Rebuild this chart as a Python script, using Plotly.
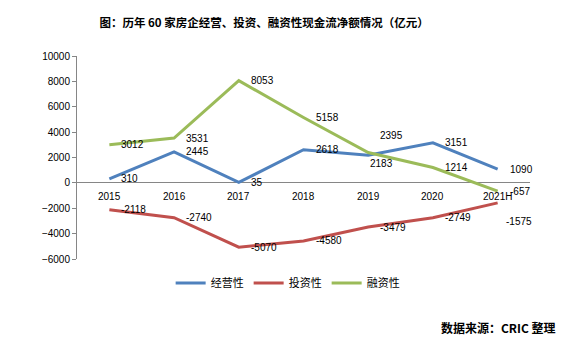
import plotly.graph_objects as go

categories = ["2015", "2016", "2017", "2018", "2019", "2020", "2021H"]
operating = [310, 2445, 35, 2618, 2183, 3151, 1090]
investing = [-2118, -2740, -5070, -4580, -3479, -2749, -1575]
financing = [3012, 3531, 8053, 5158, 2395, 1214, -657]
series_names = ["经营性", "投资性", "融资性"]
colors = ["#4F81BD", "#C0504D", "#9BBB59"]

# label pixel offsets (xshift, yshift) for specific points
label_offsets = {
    (0, 4): (-10, -8),   # operating 2019
    (2, 4): (0, 17),     # financing 2019
    (1, 6): (-4, -19),   # investing 2021H
}

fig = go.Figure()
all_series = [operating, investing, financing]
annotations = []
for si, (name, vals, col) in enumerate(zip(series_names, all_series, colors)):
    fig.add_trace(go.Scatter(
        x=categories, y=vals, mode="lines", name=name,
        line=dict(color=col, width=3),
    ))
    for pi, v in enumerate(vals):
        dx, dy = label_offsets.get((si, pi), (0, 0))
        annotations.append(dict(
            x=pi, y=v, xref="x", yref="y", text=str(v), showarrow=False,
            xanchor="left", yanchor="middle", xshift=10 + dx, yshift=dy,
            font=dict(family="Liberation Sans, Arial", size=10, color="#000000"),
        ))

for pi, c in enumerate(categories):
    annotations.append(dict(
        x=pi, y=0, xref="x", yref="y", text=c, showarrow=False,
        xanchor="center", yanchor="middle", yshift=-14,
        font=dict(family="Liberation Sans, Arial", size=10, color="#000000"),
    ))

annotations.append(dict(
    x=1.062, y=-0.335, xref="paper", yref="paper", text="<b>数据来源：CRIC 整理</b>",
    showarrow=False, xanchor="right", yanchor="middle",
    font=dict(family="Noto Sans CJK SC", size=12, color="#000000"),
))

fig.update_layout(
    width=568, height=344,
    margin=dict(l=77, r=38, t=56, b=85),
    paper_bgcolor="white", plot_bgcolor="white",
    title=dict(text="<b>图：历年 60 家房企经营、投资、融资性现金流净额情况（亿元）</b>",
               x=0.465, xref="container", xanchor="center",
               y=1 - 23 / 344, yref="container", yanchor="middle",
               font=dict(family="Noto Sans CJK SC", size=11.5, color="#000000")),
    xaxis=dict(type="category", range=[-0.5, 6.5], showticklabels=False,
               showline=False, showgrid=False, zeroline=False, fixedrange=True),
    yaxis=dict(range=[-6000, 10000], dtick=2000, tick0=0, tickformat="d", showgrid=False,
               showline=True, linecolor="#868686", linewidth=1,
               ticks="outside", tickcolor="#868686", ticklen=4,
               zeroline=True, zerolinecolor="#868686", zerolinewidth=1,
               tickfont=dict(family="Liberation Sans, Arial", size=10, color="#000000"),
               fixedrange=True),
    showlegend=True,
    legend=dict(orientation="h", x=0.465, xanchor="center", y=-0.118, yanchor="middle",
                font=dict(family="Noto Sans CJK SC", size=11, color="#000000"),
                itemwidth=30, bgcolor="rgba(0,0,0,0)"),
    annotations=annotations,
)

fig.write_html("out.html")
